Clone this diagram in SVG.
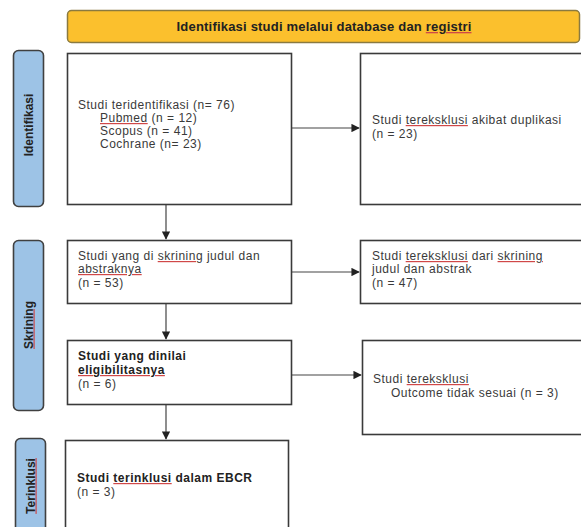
<svg xmlns="http://www.w3.org/2000/svg" width="581" height="527" viewBox="0 0 581 527">
<style>
.box{fill:#fff;stroke:#3a3a3a;stroke-width:1.6}
.lab{fill:#9dc3e6;stroke:#404040;stroke-width:1.6}
.t{font-family:"Liberation Sans",Arial,sans-serif;font-size:12px;letter-spacing:0.5px;fill:#3a3a3a}
.b{font-weight:bold;fill:#222}
.lt{font-family:"Liberation Sans",Arial,sans-serif;font-size:12px;font-weight:bold;fill:#222}
.ht{font-family:"Liberation Sans",Arial,sans-serif;font-size:13px;font-weight:bold;letter-spacing:0.2px;fill:#222}
.sp{text-decoration:underline;fill:#d04848}
.w{fill:#3a3a3a}
.wb{fill:#222}
.ln{stroke:#444;stroke-width:1.2;fill:none}
</style>
<defs>
<marker id="ah" viewBox="0 0 10 10" refX="9" refY="5" markerWidth="7" markerHeight="7" orient="auto"><path d="M0,0 L10,5 L0,10 z" fill="#222"/></marker>
</defs>
<rect width="581" height="527" fill="#fff"/>
<g id="header">
<rect x="67.5" y="10.5" width="512" height="32" rx="4" fill="#fbc02d" stroke="#8a7a40" stroke-width="1.5"/>
<text class="ht" x="324" y="31" text-anchor="middle">Identifikasi studi melalui database dan <tspan class="sp"><tspan class="wb">registri</tspan></tspan></text>
</g>
<g id="label-identifikasi">
<rect class="lab" x="13.5" y="50.5" width="30" height="156" rx="5"/>
<text class="lt" transform="translate(32.5,125) rotate(-90)" text-anchor="middle">Identifikasi</text>
</g>
<g id="label-skrining">
<rect class="lab" x="13.5" y="240.5" width="30" height="170" rx="5"/>
<text class="lt" transform="translate(32.5,325) rotate(-90)" text-anchor="middle"><tspan class="sp"><tspan class="wb">Skrining</tspan></tspan></text>
</g>
<g id="label-terinklusi">
<rect class="lab" x="15.5" y="438.5" width="30" height="100" rx="5"/>
<text class="lt" transform="translate(34.5,486) rotate(-90)" text-anchor="middle"><tspan class="sp"><tspan class="wb">Terinklusi</tspan></tspan></text>
</g>
<g id="connectors">
<line class="ln" x1="291" y1="128" x2="359" y2="128" marker-end="url(#ah)"/>
<line class="ln" x1="166" y1="205" x2="166" y2="239" marker-end="url(#ah)"/>
<line class="ln" x1="291" y1="272" x2="359" y2="272" marker-end="url(#ah)"/>
<line class="ln" x1="166" y1="304" x2="166" y2="339" marker-end="url(#ah)"/>
<line class="ln" x1="291" y1="375" x2="361" y2="375" marker-end="url(#ah)"/>
<line class="ln" x1="166" y1="405" x2="166" y2="439" marker-end="url(#ah)"/>
</g>
<g id="n-identified">
<rect class="box" x="67.5" y="53.5" width="224" height="151"/>
<text class="t" x="78" y="109">Studi teridentifikasi (n= 76)</text>
<text class="t" x="100" y="122"><tspan class="sp"><tspan class="w">Pubmed</tspan></tspan> (n = 12)</text>
<text class="t" x="100" y="135">Scopus (n = 41)</text>
<text class="t" x="100" y="148">Cochrane (n= 23)</text>
</g>
<g id="n-duplicates">
<rect class="box" x="360.5" y="53.5" width="222" height="151"/>
<text class="t" x="372" y="124">Studi <tspan class="sp"><tspan class="w">tereksklusi</tspan></tspan> akibat duplikasi</text>
<text class="t" x="372" y="138">(n = 23)</text>
</g>
<g id="n-screened">
<rect class="box" x="67.5" y="240.5" width="224" height="63"/>
<text class="t" x="78" y="260">Studi yang di <tspan class="sp"><tspan class="w">skrining</tspan></tspan> judul dan</text>
<text class="t" x="78" y="273"><tspan class="sp"><tspan class="w">abstraknya</tspan></tspan></text>
<text class="t" x="78" y="287">(n = 53)</text>
</g>
<g id="n-excluded-screen">
<rect class="box" x="360.5" y="240.5" width="222" height="63"/>
<text class="t" x="372" y="260">Studi <tspan class="sp"><tspan class="w">tereksklusi</tspan></tspan> dari <tspan class="sp"><tspan class="w">skrining</tspan></tspan></text>
<text class="t" x="372" y="273">judul dan abstrak</text>
<text class="t" x="372" y="287">(n = 47)</text>
</g>
<g id="n-eligibility">
<rect class="box" x="67.5" y="340.5" width="224" height="64"/>
<text class="t b" x="78" y="360">Studi yang dinilai</text>
<text class="t b" x="78" y="374"><tspan class="sp"><tspan class="wb">eligibilitasnya</tspan></tspan></text>
<text class="t" x="78" y="388">(n = 6)</text>
</g>
<g id="n-excluded-outcome">
<rect class="box" x="362.5" y="340.5" width="220" height="94"/>
<text class="t" x="373" y="383">Studi <tspan class="sp"><tspan class="w">tereksklusi</tspan></tspan></text>
<text class="t" x="391" y="397">Outcome tidak sesuai (n = 3)</text>
</g>
<g id="n-included">
<rect class="box" x="65.5" y="440.5" width="223" height="100"/>
<text class="t b" x="77" y="482">Studi <tspan class="sp"><tspan class="wb">terinklusi</tspan></tspan> dalam EBCR</text>
<text class="t" x="77" y="496">(n = 3)</text>
</g>
</svg>
